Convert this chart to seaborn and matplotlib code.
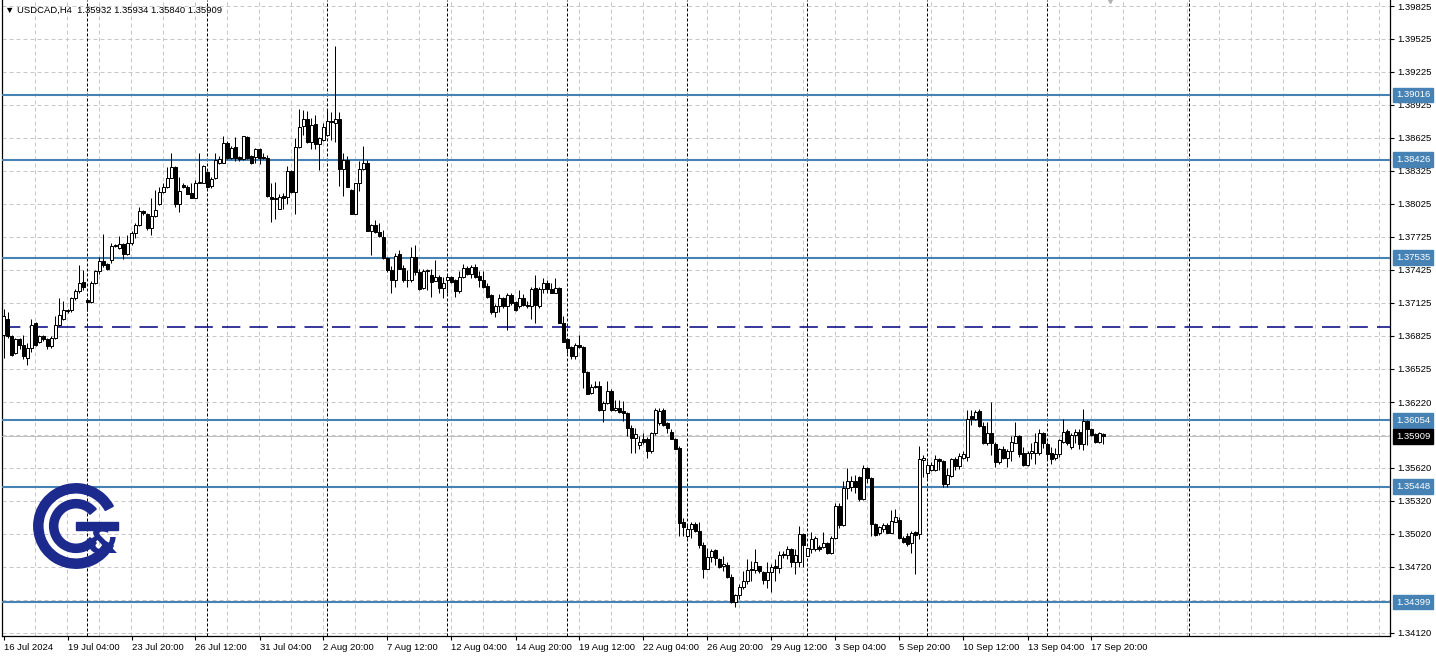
import numpy as np
import pandas as pd
import matplotlib
matplotlib.use("Agg")
import matplotlib.pyplot as plt
import matplotlib.transforms as mtransforms
from matplotlib.patches import Wedge, Rectangle
import seaborn as sns

# --- H4 candles, USDCAD, 16 Jul 12:00 -> 18 Sep 04:00 ---
opens = [
    1.3683, 1.3698, 1.3682, 1.3667, 1.3679, 1.3674, 1.3662, 1.3671, 1.3694, 1.3677,
    1.3682, 1.3679, 1.3673, 1.3680, 1.3692, 1.3698, 1.3706, 1.3706, 1.3717, 1.3723,
    1.3731, 1.3715, 1.3713, 1.3730, 1.3741, 1.3750, 1.3748, 1.3751, 1.3764, 1.3762,
    1.3766, 1.3757, 1.3767, 1.3776, 1.3783, 1.3796, 1.3793, 1.3780, 1.3791, 1.3802,
    1.3813, 1.3818, 1.3826, 1.3836, 1.3802, 1.3820, 1.3818, 1.3812, 1.3808, 1.3821,
    1.3821, 1.3831, 1.3819, 1.3826, 1.3840, 1.3840, 1.3858, 1.3844, 1.3854, 1.3845,
    1.3843, 1.3863, 1.3846, 1.3845, 1.3852, 1.3845, 1.3844, 1.3809, 1.3808, 1.3798,
    1.3810, 1.3809, 1.3832, 1.3813, 1.3854, 1.3873, 1.3880, 1.3859, 1.3875, 1.3857,
    1.3861, 1.3865, 1.3878, 1.3876, 1.3880, 1.3834, 1.3842, 1.3815, 1.3793, 1.3821,
    1.3834, 1.3840, 1.3778, 1.3783, 1.3777, 1.3772, 1.3753, 1.3742, 1.3733, 1.3757,
    1.3744, 1.3733, 1.3733, 1.3754, 1.3740, 1.3726, 1.3741, 1.3738, 1.3732, 1.3736,
    1.3726, 1.3733, 1.3736, 1.3733, 1.3723, 1.3736, 1.3744, 1.3739, 1.3745, 1.3737,
    1.3733, 1.3728, 1.3719, 1.3704, 1.3709, 1.3717, 1.3709, 1.3719, 1.3713, 1.3709,
    1.3717, 1.3710, 1.3709, 1.3726, 1.3709, 1.3725, 1.3730, 1.3725, 1.3721, 1.3726,
    1.3694, 1.3679, 1.3672, 1.3664, 1.3674, 1.3672, 1.3649, 1.3630, 1.3636, 1.3637,
    1.3615, 1.3621, 1.3632, 1.3615, 1.3617, 1.3614, 1.3612, 1.3598, 1.3589, 1.3583,
    1.3588, 1.3588, 1.3577, 1.3594, 1.3603, 1.3615, 1.3603, 1.3595, 1.3588, 1.3580,
    1.3513, 1.3500, 1.3506, 1.3511, 1.3505, 1.3492, 1.3470, 1.3481, 1.3487, 1.3479,
    1.3473, 1.3474, 1.3463, 1.3440, 1.3446, 1.3454, 1.3459, 1.3470, 1.3469, 1.3473,
    1.3467, 1.3460, 1.3467, 1.3473, 1.3471, 1.3484, 1.3483, 1.3488, 1.3476, 1.3476,
    1.3502, 1.3482, 1.3488, 1.3488, 1.3490, 1.3490, 1.3494, 1.3485, 1.3498, 1.3527,
    1.3510, 1.3544, 1.3545, 1.3550, 1.3554, 1.3534, 1.3562, 1.3553, 1.3511, 1.3503,
    1.3506, 1.3510, 1.3503, 1.3513, 1.3515, 1.3498, 1.3500, 1.3494, 1.3504, 1.3502,
    1.3569, 1.3557, 1.3560, 1.3560, 1.3570, 1.3568, 1.3547, 1.3555, 1.3570, 1.3564,
    1.3571, 1.3572, 1.3609, 1.3607, 1.3614, 1.3600, 1.3585, 1.3594, 1.3584, 1.3567,
    1.3579, 1.3571, 1.3577, 1.3585, 1.3591, 1.3576, 1.3565, 1.3576, 1.3576, 1.3576,
    1.3594, 1.3584, 1.3576, 1.3571, 1.3575, 1.3586, 1.3596, 1.3581, 1.3592, 1.3595,
    1.3584, 1.3605, 1.3597, 1.3593, 1.3586, 1.35932,
]
highs = [
    1.3707, 1.3704, 1.3683, 1.3680, 1.3680, 1.3683, 1.3676, 1.3698, 1.3695, 1.3683,
    1.3683, 1.3680, 1.3682, 1.3700, 1.3717, 1.3714, 1.3707, 1.3718, 1.3725, 1.3747,
    1.3742, 1.3717, 1.3732, 1.3742, 1.3754, 1.3775, 1.3749, 1.3767, 1.3766, 1.3773,
    1.3767, 1.3774, 1.3778, 1.3785, 1.3800, 1.3797, 1.3794, 1.3808, 1.3815, 1.3818,
    1.3821, 1.3836, 1.3849, 1.3837, 1.3827, 1.3821, 1.3820, 1.3821, 1.3824, 1.3849,
    1.3838, 1.3832, 1.3827, 1.3849, 1.3846, 1.3864, 1.3860, 1.3855, 1.3863, 1.3846,
    1.3864, 1.3864, 1.3847, 1.3853, 1.3853, 1.3849, 1.3847, 1.3821, 1.3822, 1.3811,
    1.3812, 1.3837, 1.3833, 1.3862, 1.3889, 1.3888, 1.3887, 1.3881, 1.3883, 1.3863,
    1.3876, 1.3888, 1.3886, 1.3946, 1.3886, 1.3849, 1.3846, 1.3816, 1.3821, 1.3841,
    1.3855, 1.3842, 1.3784, 1.3788, 1.3785, 1.3779, 1.3754, 1.3746, 1.3758, 1.3760,
    1.3747, 1.3742, 1.3763, 1.3765, 1.3743, 1.3743, 1.3743, 1.3743, 1.3751, 1.3738,
    1.3736, 1.3738, 1.3737, 1.3734, 1.3741, 1.3748, 1.3746, 1.3747, 1.3748, 1.3741,
    1.3741, 1.3730, 1.3720, 1.3711, 1.3720, 1.3718, 1.3721, 1.3721, 1.3714, 1.3724,
    1.3720, 1.3714, 1.3727, 1.3738, 1.3727, 1.3735, 1.3733, 1.3730, 1.3735, 1.3727,
    1.3700, 1.3680, 1.3673, 1.3676, 1.3683, 1.3673, 1.3650, 1.3638, 1.3641, 1.3641,
    1.3623, 1.3641, 1.3634, 1.3624, 1.3624, 1.3623, 1.3613, 1.3601, 1.3598, 1.3591,
    1.3594, 1.3590, 1.3595, 1.3617, 1.3617, 1.3617, 1.3604, 1.3597, 1.3589, 1.3582,
    1.3516, 1.3510, 1.3513, 1.3513, 1.3513, 1.3495, 1.3489, 1.3488, 1.3488, 1.3480,
    1.3482, 1.3476, 1.3465, 1.3447, 1.3456, 1.3468, 1.3479, 1.3477, 1.3488, 1.3473,
    1.3468, 1.3476, 1.3475, 1.3479, 1.3486, 1.3486, 1.3491, 1.3489, 1.3488, 1.3509,
    1.3503, 1.3489, 1.3504, 1.3500, 1.3492, 1.3504, 1.3495, 1.3500, 1.3530, 1.3530,
    1.3550, 1.3562, 1.3555, 1.3556, 1.3555, 1.3565, 1.3563, 1.3554, 1.3512, 1.3509,
    1.3512, 1.3512, 1.3524, 1.3525, 1.3517, 1.3500, 1.3503, 1.3505, 1.3505, 1.3582,
    1.3574, 1.3568, 1.3567, 1.3574, 1.3571, 1.3569, 1.3562, 1.3571, 1.3572, 1.3576,
    1.3577, 1.3615, 1.3615, 1.3615, 1.3616, 1.3604, 1.3604, 1.3622, 1.3586, 1.3580,
    1.3582, 1.3579, 1.3591, 1.3604, 1.3592, 1.3581, 1.3577, 1.3585, 1.3594, 1.3597,
    1.3595, 1.3586, 1.3581, 1.3580, 1.3588, 1.3607, 1.3597, 1.3594, 1.3597, 1.3597,
    1.3616, 1.3606, 1.3598, 1.3594, 1.3595, 1.35934,
]
lows = [
    1.3662, 1.3680, 1.3664, 1.3666, 1.3670, 1.3661, 1.3656, 1.3668, 1.3673, 1.3676,
    1.3678, 1.3670, 1.3671, 1.3679, 1.3691, 1.3697, 1.3703, 1.3704, 1.3715, 1.3721,
    1.3724, 1.3705, 1.3712, 1.3729, 1.3739, 1.3745, 1.3742, 1.3749, 1.3763, 1.3761,
    1.3752, 1.3756, 1.3765, 1.3771, 1.3782, 1.3792, 1.3779, 1.3774, 1.3790, 1.3801,
    1.3812, 1.3817, 1.3826, 1.3800, 1.3795, 1.3817, 1.3811, 1.3808, 1.3808, 1.3821,
    1.3821, 1.3817, 1.3817, 1.3825, 1.3839, 1.3840, 1.3843, 1.3843, 1.3841, 1.3841,
    1.3842, 1.3843, 1.3839, 1.3840, 1.3839, 1.3843, 1.3809, 1.3786, 1.3789, 1.3798,
    1.3798, 1.3802, 1.3812, 1.3793, 1.3853, 1.3865, 1.3858, 1.3852, 1.3852, 1.3833,
    1.3860, 1.3864, 1.3861, 1.3859, 1.3819, 1.3810, 1.3818, 1.3793, 1.3793, 1.3814,
    1.3833, 1.3778, 1.3756, 1.3776, 1.3772, 1.3752, 1.3740, 1.3721, 1.3727, 1.3743,
    1.3731, 1.3727, 1.3731, 1.3738, 1.3724, 1.3725, 1.3724, 1.3718, 1.3732, 1.3721,
    1.3717, 1.3721, 1.3730, 1.3718, 1.3721, 1.3735, 1.3738, 1.3735, 1.3735, 1.3727,
    1.3726, 1.3717, 1.3702, 1.3699, 1.3704, 1.3708, 1.3688, 1.3710, 1.3705, 1.3708,
    1.3709, 1.3708, 1.3698, 1.3694, 1.3708, 1.3721, 1.3721, 1.3721, 1.3721, 1.3694,
    1.3677, 1.3667, 1.3661, 1.3661, 1.3671, 1.3635, 1.3629, 1.3629, 1.3635, 1.3614,
    1.3604, 1.3620, 1.3614, 1.3614, 1.3612, 1.3605, 1.3591, 1.3576, 1.3576, 1.3579,
    1.3584, 1.3571, 1.3576, 1.3592, 1.3601, 1.3600, 1.3594, 1.3588, 1.3579, 1.3500,
    1.3500, 1.3498, 1.3498, 1.3504, 1.3489, 1.3462, 1.3470, 1.3476, 1.3474, 1.3471,
    1.3468, 1.3462, 1.3439, 1.3435, 1.3443, 1.3452, 1.3456, 1.3459, 1.3466, 1.3466,
    1.3456, 1.3453, 1.3449, 1.3459, 1.3466, 1.3480, 1.3479, 1.3472, 1.3465, 1.3472,
    1.3472, 1.3482, 1.3485, 1.3486, 1.3486, 1.3489, 1.3484, 1.3484, 1.3497, 1.3507,
    1.3509, 1.3534, 1.3541, 1.3539, 1.3532, 1.3533, 1.3548, 1.3500, 1.3500, 1.3501,
    1.3504, 1.3503, 1.3503, 1.3513, 1.3497, 1.3494, 1.3491, 1.3485, 1.3465, 1.3497,
    1.3554, 1.3553, 1.3559, 1.3559, 1.3560, 1.3545, 1.3545, 1.3554, 1.3560, 1.3561,
    1.3570, 1.3568, 1.3601, 1.3606, 1.3599, 1.3584, 1.3583, 1.3574, 1.3563, 1.3566,
    1.3570, 1.3563, 1.3568, 1.3585, 1.3572, 1.3564, 1.3564, 1.3570, 1.3566, 1.3574,
    1.3580, 1.3569, 1.3566, 1.3569, 1.3572, 1.3585, 1.3583, 1.3579, 1.3585, 1.3579,
    1.3578, 1.3583, 1.3591, 1.3585, 1.3585, 1.35840,
]
closes = [
    1.3700, 1.3682, 1.3665, 1.3679, 1.3674, 1.3664, 1.3671, 1.3692, 1.3674, 1.3682,
    1.3679, 1.3673, 1.3680, 1.3692, 1.3701, 1.3706, 1.3705, 1.3717, 1.3723, 1.3730,
    1.3727, 1.3713, 1.3730, 1.3741, 1.3750, 1.3747, 1.3743, 1.3764, 1.3765, 1.3766,
    1.3757, 1.3767, 1.3776, 1.3783, 1.3796, 1.3794, 1.3780, 1.3791, 1.3797, 1.3813,
    1.3818, 1.3826, 1.3836, 1.3802, 1.3814, 1.3818, 1.3811, 1.3808, 1.3821, 1.3822,
    1.3837, 1.3818, 1.3825, 1.3842, 1.3843, 1.3858, 1.3844, 1.3853, 1.3844, 1.3843,
    1.3864, 1.3844, 1.3840, 1.3852, 1.3844, 1.3844, 1.3810, 1.3807, 1.3807, 1.3809,
    1.3808, 1.3832, 1.3813, 1.3854, 1.3872, 1.3880, 1.3859, 1.3874, 1.3857, 1.3862,
    1.3872, 1.3878, 1.3877, 1.3880, 1.3834, 1.3842, 1.3818, 1.3793, 1.3821, 1.3834,
    1.3840, 1.3778, 1.3783, 1.3777, 1.3773, 1.3753, 1.3742, 1.3733, 1.3755, 1.3743,
    1.3733, 1.3733, 1.3754, 1.3740, 1.3725, 1.3741, 1.3742, 1.3731, 1.3736, 1.3726,
    1.3730, 1.3736, 1.3731, 1.3723, 1.3736, 1.3744, 1.3739, 1.3745, 1.3736, 1.3733,
    1.3727, 1.3718, 1.3704, 1.3709, 1.3717, 1.3709, 1.3719, 1.3712, 1.3706, 1.3717,
    1.3710, 1.3709, 1.3725, 1.3710, 1.3725, 1.3730, 1.3725, 1.3721, 1.3726, 1.3694,
    1.3677, 1.3671, 1.3664, 1.3674, 1.3672, 1.3649, 1.3629, 1.3636, 1.3637, 1.3615,
    1.3621, 1.3632, 1.3615, 1.3617, 1.3613, 1.3612, 1.3598, 1.3589, 1.3593, 1.3586,
    1.3586, 1.3577, 1.3594, 1.3615, 1.3614, 1.3601, 1.3598, 1.3588, 1.3579, 1.3512,
    1.3508, 1.3506, 1.3511, 1.3505, 1.3492, 1.3470, 1.3481, 1.3486, 1.3480, 1.3472,
    1.3475, 1.3463, 1.3440, 1.3446, 1.3454, 1.3459, 1.3469, 1.3469, 1.3476, 1.3468,
    1.3460, 1.3467, 1.3472, 1.3471, 1.3483, 1.3483, 1.3488, 1.3476, 1.3483, 1.3502,
    1.3492, 1.3489, 1.3497, 1.3498, 1.3488, 1.3494, 1.3485, 1.3498, 1.3527, 1.3510,
    1.3544, 1.3550, 1.3550, 1.3545, 1.3534, 1.3562, 1.3553, 1.3511, 1.3501, 1.3508,
    1.3510, 1.3503, 1.3514, 1.3517, 1.3498, 1.3495, 1.3493, 1.3503, 1.3501, 1.3570,
    1.3571, 1.3565, 1.3565, 1.3570, 1.3568, 1.3547, 1.3556, 1.3570, 1.3564, 1.3573,
    1.3575, 1.3607, 1.3607, 1.3613, 1.3600, 1.3585, 1.3594, 1.3585, 1.3567, 1.3579,
    1.3571, 1.3577, 1.3586, 1.3591, 1.3575, 1.3565, 1.3576, 1.3577, 1.3586, 1.3594,
    1.3585, 1.3575, 1.3570, 1.3575, 1.3587, 1.3595, 1.3585, 1.3592, 1.3595, 1.3584,
    1.3605, 1.3597, 1.3592, 1.3586, 1.3594, 1.35909,
]

# --- axis text ---
time_labels = ["16 Jul 2024", "19 Jul 04:00", "23 Jul 20:00", "26 Jul 12:00",
               "31 Jul 04:00", "2 Aug 20:00", "7 Aug 12:00", "12 Aug 04:00",
               "14 Aug 20:00", "19 Aug 12:00", "22 Aug 04:00", "26 Aug 20:00",
               "29 Aug 12:00", "3 Sep 04:00", "5 Sep 20:00", "10 Sep 12:00",
               "13 Sep 04:00", "17 Sep 20:00"]
time_label_bars = [0, 16, 32, 48, 64, 80, 96, 112, 128, 144, 160, 176,
                   192, 208, 224, 240, 256, 272]
price_ticks = [1.39825, 1.39525, 1.39225, 1.38925, 1.38625, 1.38325, 1.38025,
               1.37725, 1.37425, 1.37125, 1.36825, 1.36525, 1.36220, 1.35620,
               1.35320, 1.35020, 1.34720, 1.34120]
hidden_grid = [1.35920, 1.34420]
week_bars = [21, 51, 81, 111, 141, 171, 201, 231, 261, 296.6]

# --- drawn levels ---
levels = [1.39016, 1.38426, 1.37535, 1.36054, 1.35448, 1.34399]
pivot = 1.36905
last_price = 1.35909
header = "\u25bc USDCAD,H4  1.35932 1.35934 1.35840 1.35909"

W, H = 1436, 657
BLUE = "#4682B4"
NAVY = "#1B2A8C"

sns.set_theme(style="white")
plt.rcParams["font.family"] = ["Liberation Sans", "DejaVu Sans"]

df = pd.DataFrame({"open": opens, "high": highs, "low": lows, "close": closes})
df["bar"] = np.arange(len(df))
df["bull"] = df["close"] >= df["open"]
df["body_lo"] = df[["open", "close"]].min(axis=1)
df["body_hi"] = df[["open", "close"]].max(axis=1)

fig = plt.figure(figsize=(W / 100, H / 100), dpi=100)
ax = fig.add_axes([2 / W, 21 / H, 1388 / W, 636 / H])
ax.set_facecolor("white")

px = 0.72  # one pixel in points

# grid
for k in range(43):
    ax.axvline(7.875 + 8 * k, color="#C8C8C8", lw=px, ls=(0, (4, 3)), zorder=1)
for p in price_ticks + hidden_grid:
    ax.axhline(p, color="#C8C8C8", lw=px, ls=(0, (4, 3)), zorder=1)

# week separators
for b in week_bars:
    ax.axvline(b - 0.125, color="black", lw=px, ls=(0, (3, 2)), zorder=2)

# horizontal levels
for lv in levels:
    ax.axhline(lv, color=BLUE, lw=1.5, zorder=3)
ax.axhline(pivot, color="#000080", lw=1.1, ls=(0, (12, 6)), zorder=3)
ax.axhline(last_price, color="#C0C0C0", lw=px, zorder=3)

# candles
ax.vlines(df["bar"], df[["low", "body_lo"]].min(axis=1), df[["high", "body_hi"]].max(axis=1),
          color="black", lw=px, zorder=4)
bull = df[df["bull"]]
bear = df[~df["bull"]]
ax.bar(bull["bar"], bull["body_hi"] - bull["body_lo"], bottom=bull["body_lo"], width=0.6,
       color="white", edgecolor="black", linewidth=px, zorder=5)
ax.bar(bear["bar"], bear["body_hi"] - bear["body_lo"], bottom=bear["body_lo"], width=0.6,
       color="black", edgecolor="black", linewidth=px, zorder=5)

ax.set_xlim(-0.375, 346.625)
ax.set_ylim(1.34090, 1.39880)

# axes / ticks
for side in ["left", "right", "bottom"]:
    ax.spines[side].set_color("black")
    ax.spines[side].set_linewidth(0.9)
ax.spines["top"].set_visible(False)

ax.yaxis.tick_right()
ax.set_yticks(price_ticks)
ax.set_yticklabels([f"{p:.5f}" for p in price_ticks])
ax.tick_params(axis="y", direction="out", length=3, width=0.8, pad=2,
               labelsize=6.8, colors="black", right=True, left=False)
ax.set_xticks(time_label_bars)
ax.set_xticklabels(time_labels)
ax.tick_params(axis="x", direction="out", length=3, width=0.8, pad=2,
               labelsize=6.8, colors="black", bottom=True)
for lbl in ax.get_xticklabels():
    lbl.set_ha("left")

# price boxes on the right scale
box_tr = mtransforms.blended_transform_factory(ax.transAxes, ax.transData)
for lv, fc in [(v, BLUE) for v in levels] + [(last_price, "black")]:
    ax.annotate(f"{lv:.5f}", xy=(1.0, lv), xycoords=box_tr, xytext=(4.2, 0),
                textcoords="offset points", ha="left", va="center",
                fontsize=6.8, color="white", annotation_clip=False, zorder=10,
                bbox=dict(boxstyle="square,pad=0.3", fc=fc, ec=fc))

# chart shift marker
ax.plot([276.6], [1.39880], marker="v", color="#B0B0B0", ms=5,
        clip_on=False, zorder=10)

# header
fig.text(5 / W, 1 - 10 / H, header, ha="left", va="center", fontsize=6.8, color="black")

# logo
lax = fig.add_axes([28 / W, 1 - 574 / H, 96 / W, 96 / H])
lax.set_xlim(-1, 1)
lax.set_ylim(-1, 1)
lax.axis("off")
lax.add_patch(Wedge((0, 0), 0.88, 28, 332, width=0.19, color=NAVY))
lax.add_patch(Wedge((0, 0), 0.55, 40, 320, width=0.17, color=NAVY))
lax.add_patch(Rectangle((0.0, -0.09), 0.88, 0.18, color=NAVY))
lax.text(0.55, -0.35, "&", ha="center", va="center", fontsize=26,
         fontweight="bold", color=NAVY, family="DejaVu Sans")

fig.savefig("out.png", dpi=100)
